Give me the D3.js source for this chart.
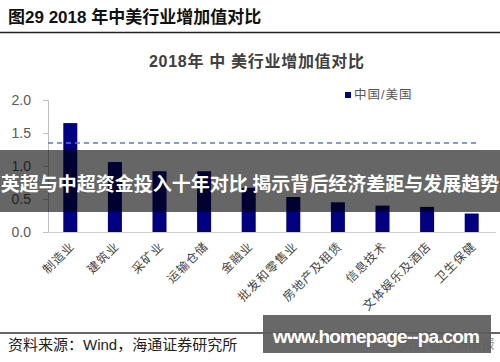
<!DOCTYPE html>
<html>
<head>
<meta charset="utf-8">
<script src="https://cdn.jsdelivr.net/npm/d3@7"></script>
<style>
  body { margin: 0; background: #fff; }
  svg { display: block; font-family: "Liberation Sans", "Noto Sans CJK SC", sans-serif; }
</style>
</head>
<body>
<div id="root"></div>
<script>
const categories = ['制造业', '建筑业', '采矿业', '运输仓储', '金融业', '批发和零售业', '房地产及租赁', '信息技术', '文体娱乐及酒店', '卫生保健'];
const ratioValues = [1.65, 1.06, 0.92, 0.92, 0.67, 0.53, 0.45, 0.40, 0.38, 0.28];
const averageRatio = [1.35];
const yTicks = [0, 0.5, 1.0, 1.5, 2.0];
const legendTitles = ['中国/美国'];

const width = 500;
const height = 362;
const barColor = '#000080';
const cjk = '"Liberation Sans", "Noto Sans CJK SC", sans-serif';

const svg = d3.select('#root')
  .append('svg')
  .attr('width', width)
  .attr('height', height);

// figure title and rule
svg.append('text')
  .attr('x', 8)
  .attr('y', 23)
  .attr('font-size', '17px')
  .attr('font-weight', 'bold')
  .attr('fill', '#111')
  .text('图29 2018 年中美行业增加值对比');

svg.append('line')
  .attr('x1', 0).attr('x2', width)
  .attr('y1', 32.5).attr('y2', 32.5)
  .style('stroke', '#222')
  .style('stroke-width', '1.6px');

// chart title
svg.append('text')
  .attr('x', 149)
  .attr('y', 67)
  .attr('font-size', '16px')
  .attr('font-weight', 'bold')
  .attr('letter-spacing', '0.7px')
  .attr('fill', '#404040')
  .text('2018年 中 美行业增加值对比');

const x = d3.scaleBand()
  .domain(categories)
  .range([48, 494])
  .paddingInner(0.686)
  .paddingOuter(0.343);

const y = d3.scaleLinear()
  .domain([0, 2])
  .range([232, 100]);

const yAxis = svg.append('g')
  .attr('transform', 'translate(48,0)')
  .call(d3.axisLeft(y).tickValues(yTicks).tickFormat(d3.format('.1f')).tickSize(5).tickPadding(12));

yAxis.select('.domain').style('stroke', '#bfbfbf').attr('d', 'M-5,100.5H0.5V232');
yAxis.selectAll('.tick line').style('stroke', '#bfbfbf');
yAxis.selectAll('.tick text')
  .attr('font-size', '14px')
  .attr('fill', '#595959')
  .attr('font-family', '"Liberation Sans", sans-serif');

// x baseline
svg.append('line')
  .attr('x1', 48).attr('x2', 496)
  .attr('y1', y(0) + 0.5).attr('y2', y(0) + 0.5)
  .style('stroke', '#d0d0d0')
  .style('stroke-width', '1px');

svg.selectAll('.bar')
  .data(ratioValues)
  .enter()
  .append('rect')
  .attr('class', 'bar')
  .attr('x', (_d, i) => x(categories[i]))
  .attr('y', (d) => y(d))
  .attr('width', x.bandwidth())
  .attr('height', (d) => y(0) - y(d))
  .style('fill', barColor);

// average dashed line
svg.selectAll('.avg')
  .data(averageRatio)
  .enter()
  .append('line')
  .attr('x1', 48)
  .attr('x2', 477)
  .attr('y1', (d) => y(d))
  .attr('y2', (d) => y(d))
  .style('stroke', '#5a78d0')
  .style('stroke-width', '1.5px')
  .style('stroke-dasharray', '5,4');

// category labels
svg.selectAll('.xlabel')
  .data(categories)
  .enter()
  .append('text')
  .attr('class', 'xlabel')
  .attr('transform', (d) => `translate(${ x(d) + x.bandwidth() / 2 + 2 },${ 244 }) rotate(-45)`)
  .attr('text-anchor', 'end')
  .attr('dy', '0.35em')
  .attr('font-size', '12px')
  .attr('letter-spacing', '1px')
  .attr('font-family', cjk)
  .attr('fill', '#444')
  .text((d) => d);

// legend
const legend = svg.append('g').attr('transform', 'translate(345,92)');
legend.selectAll('rect')
  .data(legendTitles)
  .enter()
  .append('rect')
  .attr('width', 6)
  .attr('height', 6)
  .style('fill', barColor);
legend.selectAll('text')
  .data(legendTitles)
  .enter()
  .append('text')
  .attr('x', 9)
  .attr('y', 3)
  .attr('dy', '0.35em')
  .attr('font-size', '12.5px')
  .attr('letter-spacing', '1px')
  .attr('fill', '#555')
  .text((d) => d);

// source note
svg.append('line')
  .attr('x1', 0).attr('x2', width)
  .attr('y1', 333).attr('y2', 333)
  .style('stroke', '#333')
  .style('stroke-width', '1.5px');

svg.append('text')
  .attr('x', 8)
  .attr('y', 350)
  .attr('font-size', '15px')
  .attr('fill', '#222')
  .text('资料来源：Wind，海通证券研究所');

svg.append('text')
  .attr('x', 400)
  .attr('y', 348)
  .attr('font-size', '13px')
  .attr('fill', '#999')
  .text('头条 @千贤研报');

// overlay band with headline
svg.append('rect')
  .attr('x', 0).attr('y', 150)
  .attr('width', width).attr('height', 62)
  .style('fill', '#000')
  .style('fill-opacity', 0.6);

svg.append('text')
  .attr('x', width / 2)
  .attr('y', 191)
  .attr('text-anchor', 'middle')
  .attr('font-size', '19px')
  .attr('font-weight', 'bold')
  .attr('font-family', '"Noto Sans CJK SC", sans-serif')
  .attr('fill', '#fff')
  .text('英超与中超资金投入十年对比 揭示背后经济差距与发展趋势');

// watermark box
svg.append('rect')
  .attr('x', 263).attr('y', 315)
  .attr('width', 228).attr('height', 38)
  .style('fill', '#5c5c5c')
  .style('fill-opacity', 0.93);

svg.append('text')
  .attr('x', 273)
  .attr('y', 343)
  .attr('font-size', '19px')
  .attr('font-weight', 'bold')
  .attr('textLength', 207)
  .attr('fill', '#fff')
  .text('www.homepage--pa.com');
</script>
</body>
</html>
